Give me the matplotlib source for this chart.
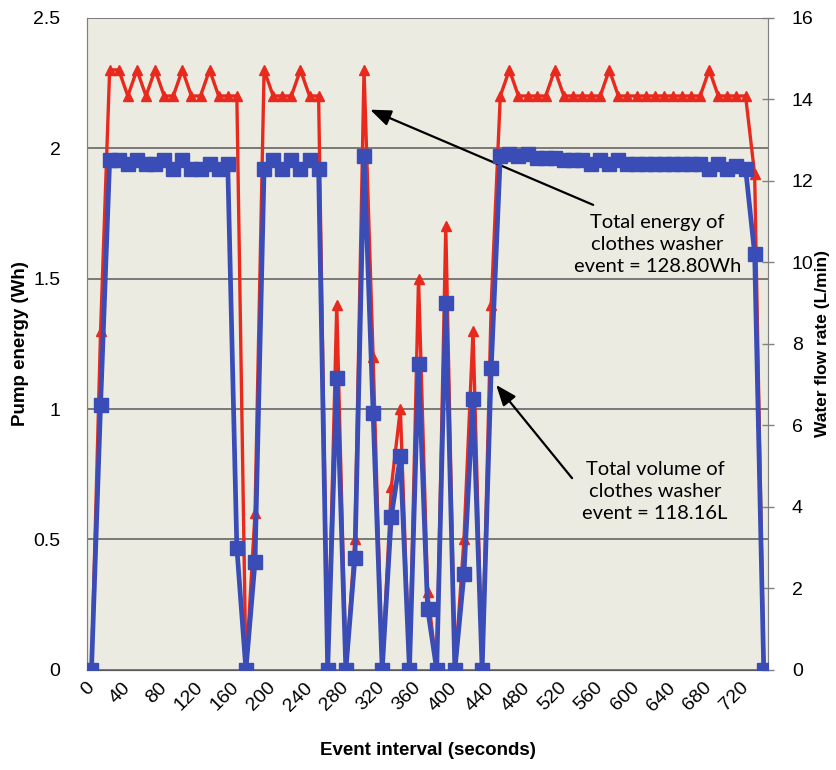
import matplotlib.pyplot as plt
import numpy as np

plt.rcParams['font.family'] = ['Liberation Sans', 'DejaVu Sans']

# event interval categories (seconds), one reading every 10 s
event_interval = list(range(0, 750, 10))

# pump energy (Wh), left axis
pump_energy = [
    0, 1.3, 2.3, 2.3, 2.2, 2.3, 2.2, 2.3, 2.2, 2.2, 2.3, 2.2, 2.2, 2.3, 2.2, 2.2, 2.2,
    0, 0.6, 2.3, 2.2, 2.2, 2.2, 2.3, 2.2, 2.2, 0,
    1.4, 0, 0.5, 2.3, 1.2, 0, 0.7, 1.0, 0, 1.5, 0.3, 0, 1.7, 0, 0.5, 1.3, 0, 1.4,
    2.2, 2.3, 2.2, 2.2, 2.2, 2.2, 2.3, 2.2, 2.2, 2.2, 2.2, 2.2, 2.3, 2.2, 2.2, 2.2,
    2.2, 2.2, 2.2, 2.2, 2.2, 2.2, 2.2, 2.3, 2.2, 2.2, 2.2, 2.2, 1.9, 0,
]

# water flow rate (L/min), right axis
water_flow = [
    0, 6.5, 12.5, 12.5, 12.4, 12.5, 12.4, 12.4, 12.5, 12.3, 12.5, 12.3, 12.3, 12.4, 12.3, 12.4, 3.0,
    0, 2.65, 12.3, 12.5, 12.3, 12.5, 12.3, 12.5, 12.3, 0,
    7.15, 0, 2.75, 12.6, 6.3, 0, 3.75, 5.25, 0, 7.5, 1.5, 0, 9.0, 0, 2.35, 6.65, 0, 7.4,
    12.6, 12.65, 12.6, 12.65, 12.55, 12.55, 12.55, 12.5, 12.5, 12.5, 12.4, 12.5, 12.4, 12.5, 12.4,
    12.4, 12.4, 12.4, 12.4, 12.4, 12.4, 12.4, 12.4, 12.3, 12.4, 12.3, 12.35, 12.3, 10.2, 0,
]

left_ticks = [0, 0.5, 1, 1.5, 2, 2.5]
left_tick_labels = ['0', '0.5', '1', '1.5', '2', '2.5']
right_ticks = [0, 2, 4, 6, 8, 10, 12, 14, 16]

RED = '#e82a1e'
BLUE = '#3a4cb6'
GRID = '#5a5a5a'

fig = plt.figure(figsize=(8.36, 7.7), dpi=100)
ax = fig.add_axes([0.104, 0.13, 0.815, 0.847])
ax.set_facecolor('#ecebe1')
ax2 = ax.twinx()

idx = np.arange(len(event_interval))
ax.plot(idx, pump_energy, color=RED, lw=2.4, marker='^', ms=7.5, mfc=RED, mec=RED, zorder=3)
ax2.plot(idx, water_flow, color=BLUE, lw=3.4, marker='s', ms=9.5, mfc=BLUE, mec=BLUE, zorder=3)

ax.set_xlim(-0.5, len(event_interval) - 0.5)
ax.set_ylim(0, 2.5)
ax2.set_ylim(0, 16)

ax.set_yticks(left_ticks)
ax.set_yticklabels(left_tick_labels)
ax.yaxis.grid(True, color=GRID, lw=1.1)
ax.set_axisbelow(True)
ax.tick_params(axis='y', length=0, pad=19, labelsize=14)

ax.set_xticks(idx[::4])
ax.set_xticklabels([str(s) for s in event_interval[::4]], rotation=45,
                   ha='right', va='center', rotation_mode='anchor')
ax.tick_params(axis='x', length=0, pad=11, labelsize=14)

ax2.set_yticks(right_ticks)
ax2.tick_params(axis='y', direction='inout', length=8, width=1, color='#808080',
                pad=13, labelsize=14)

for a in (ax, ax2):
    for side in ('left', 'right'):
        a.spines[side].set_color('#808080')
    a.spines['top'].set_visible(False)
    a.spines['bottom'].set_color(GRID)

ax.set_xlabel('Event interval (seconds)', fontsize=13.5, fontweight='bold', labelpad=20)
ax.set_ylabel('Pump energy (Wh)', fontsize=13.5, fontweight='bold', labelpad=3)
ax2.set_ylabel('Water flow rate (L/min)', fontsize=12.5, fontweight='bold', labelpad=1)

# annotations
note_font = dict(fontsize=14.5, family=['Lato', 'DejaVu Sans'], ha='center', va='center',
                 linespacing=1.35, transform=ax.transAxes)
ax.text(0.837, 0.652, 'Total energy of\nclothes washer\nevent = 128.80Wh', **note_font)
ax.text(0.834, 0.273, 'Total volume of\nclothes washer\nevent = 118.16L', **note_font)

arrow = dict(arrowstyle='-|>,head_length=0.9,head_width=0.35', color='black', lw=1.6,
             shrinkA=0, shrinkB=0, mutation_scale=14)
ax.annotate('', xy=(0.4156, 0.859), xycoords='axes fraction',
            xytext=(0.743, 0.713), textcoords='axes fraction', arrowprops=arrow)
ax.annotate('', xy=(0.6006, 0.437), xycoords='axes fraction',
            xytext=(0.712, 0.294), textcoords='axes fraction', arrowprops=arrow)

fig.savefig('out.png', dpi=100)
